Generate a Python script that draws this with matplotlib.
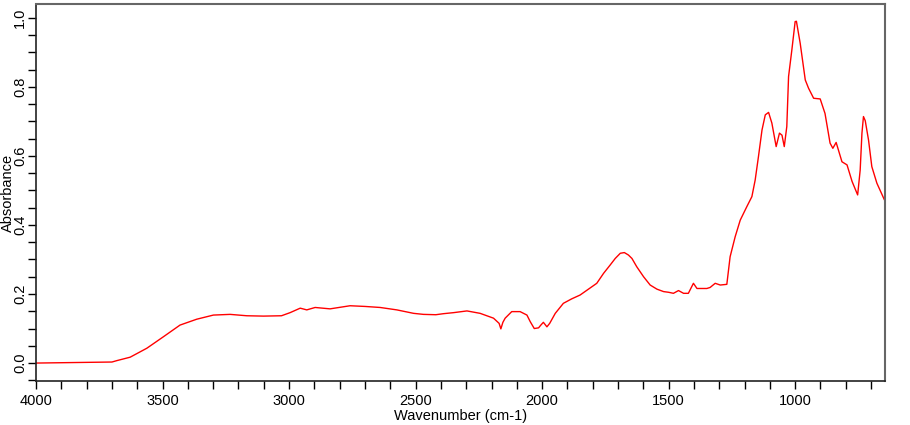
import matplotlib
matplotlib.use("Agg")
import matplotlib.pyplot as plt
from matplotlib.ticker import MultipleLocator

plt.rcParams['font.family'] = ['Liberation Sans', 'DejaVu Sans']

# espectro IR
wavenumber = [4000, 3900, 3800, 3700, 3681, 3628, 3562, 3497, 3431, 3365,
              3299, 3233, 3167, 3101, 3030, 2996, 2956, 2930, 2897, 2838,
              2759, 2700, 2640, 2574, 2508, 2469, 2420, 2390, 2350, 2297,
              2245, 2192, 2170, 2163, 2155, 2146, 2120, 2087, 2060, 2047,
              2031, 2014, 2005, 1995, 1981, 1970, 1948, 1916, 1883, 1850,
              1784, 1757, 1731, 1711, 1691, 1675, 1659, 1645, 1626, 1599,
              1573, 1546, 1520, 1500, 1481, 1461, 1441,
              1422, 1402, 1388, 1349, 1336, 1316, 1296, 1270, 1257, 1237,
              1217, 1191, 1171, 1158, 1145, 1131, 1118, 1105, 1092, 1075,
              1062, 1052, 1043, 1033, 1026, 1013, 1000, 995, 980, 960,
              947, 927, 901, 882, 862, 851, 838, 815, 795, 775,
              753, 743, 736, 730, 723, 710, 697, 677, 648]
absorbance = [0.000, 0.001, 0.002, 0.003, 0.007, 0.017, 0.043, 0.076, 0.110, 0.127,
              0.139, 0.141, 0.137, 0.136, 0.137, 0.146, 0.159, 0.154, 0.161, 0.157,
              0.166, 0.164, 0.161, 0.154, 0.144, 0.141, 0.140, 0.143, 0.146, 0.151,
              0.144, 0.130, 0.115, 0.099, 0.118, 0.130, 0.149, 0.149, 0.139, 0.120,
              0.100, 0.102, 0.110, 0.118, 0.105, 0.115, 0.144, 0.173, 0.186, 0.197,
              0.231, 0.260, 0.284, 0.303, 0.318, 0.320, 0.313, 0.303, 0.279, 0.250,
              0.226, 0.214, 0.207, 0.205, 0.202, 0.210, 0.202,
              0.202, 0.231, 0.216, 0.216, 0.219, 0.231, 0.226, 0.228, 0.308, 0.366,
              0.414, 0.453, 0.482, 0.530, 0.598, 0.675, 0.719, 0.726, 0.695, 0.627,
              0.666, 0.660, 0.627, 0.685, 0.830, 0.907, 0.989, 0.990, 0.926, 0.820,
              0.796, 0.767, 0.765, 0.723, 0.637, 0.622, 0.639, 0.583, 0.574, 0.526,
              0.487, 0.559, 0.666, 0.714, 0.702, 0.646, 0.569, 0.521, 0.474]

fig = plt.figure(figsize=(9.1, 4.25), dpi=100)
ax = fig.add_axes([0.0396, 0.1035, 0.9329, 0.8871])

ax.plot(wavenumber, absorbance, color="red", linewidth=1.0)

ax.set_xlim(4000, 645)
ax.set_ylim(-0.052, 1.04)

ax.xaxis.set_major_locator(MultipleLocator(500))
ax.xaxis.set_minor_locator(MultipleLocator(100))
ax.yaxis.set_minor_locator(MultipleLocator(0.05))
ax.set_yticks([0.0, 0.2, 0.4, 0.6, 0.8, 1.0])
ax.set_yticklabels(["0.0", "0.2", "0.4", "0.6", "0.8", "1.0"], rotation=90, va="center")

ax.tick_params(axis="both", which="both", direction="out", length=6, width=1,
               labelsize=10.5, colors="black")
ax.tick_params(axis="y", pad=0.5)
ax.tick_params(axis="x", pad=3)

for lado in ["left", "bottom"]:
    ax.spines[lado].set_color("#222222")
    ax.spines[lado].set_linewidth(1.2)
for lado in ["top", "right"]:
    ax.spines[lado].set_color("#666666")
    ax.spines[lado].set_linewidth(1.5)

ax.set_xlabel("Wavenumber (cm-1)", fontsize=10.5, labelpad=1)
ax.set_ylabel("Absorbance", fontsize=10.5)
ax.yaxis.set_label_coords(-0.0245, 0.5)

fig.savefig("out.png", dpi=100)
